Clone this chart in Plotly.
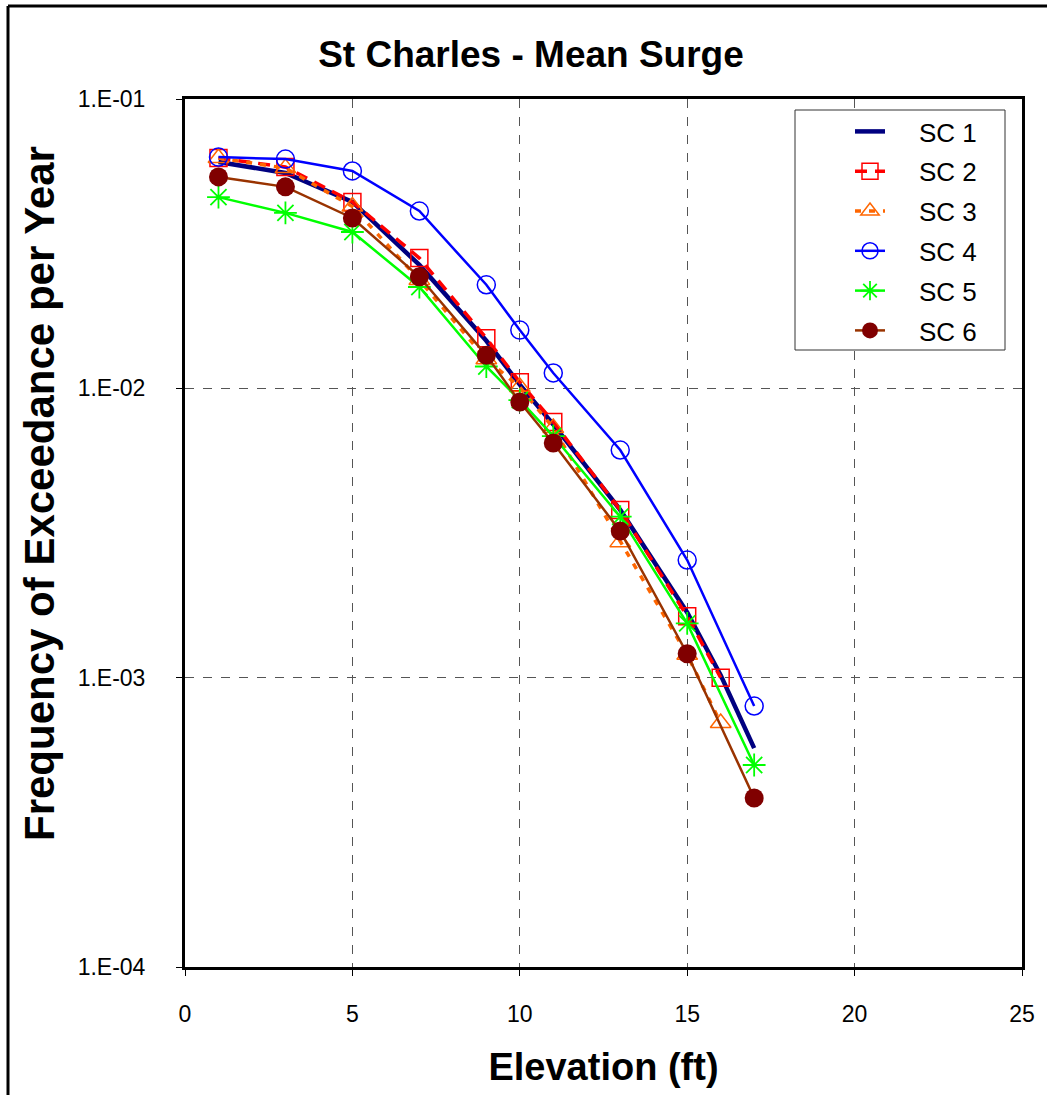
import plotly.graph_objects as go

# ---- data ----
x_sc1 = [1, 3, 5, 7, 9, 10, 11, 13, 15, 16, 17]
y_sc1 = [0.0606, 0.0555, 0.0441, 0.0267, 0.0146, 0.0103, 0.0075, 0.0038, 0.00168, 0.00102, 0.000571]

x_sc2 = [1, 3, 5, 7, 9, 10, 11, 13, 15, 16]
y_sc2 = [0.0625, 0.0582, 0.0441, 0.0282, 0.0149, 0.0105, 0.00765, 0.0038, 0.00163, 0.0010]

x_sc3 = [1, 3, 5, 7, 9, 10, 11, 13, 15, 16]
y_sc3 = [0.0625, 0.0577, 0.0425, 0.0237, 0.0126, 0.0101, 0.0073, 0.00294, 0.00120, 0.000697]

x_sc4 = [1, 3, 5, 7, 9, 10, 11, 13, 15, 17]
y_sc4 = [0.0630, 0.0620, 0.0564, 0.0410, 0.0228, 0.0159, 0.0113, 0.00612, 0.00255, 0.000798]

x_sc5 = [1, 3, 5, 7, 9, 10, 11, 13, 15, 17]
y_sc5 = [0.0458, 0.0404, 0.0347, 0.0224, 0.0119, 0.00911, 0.00684, 0.0036, 0.00154, 0.000499]

x_sc6 = [1, 3, 5, 7, 9, 10, 11, 13, 15, 17]
y_sc6 = [0.0538, 0.0497, 0.0388, 0.0243, 0.0130, 0.00897, 0.00647, 0.00321, 0.00121, 0.000384]

series_names = ["SC 1", "SC 2", "SC 3", "SC 4", "SC 5", "SC 6"]
y_tickvals = [1e-4, 1e-3, 1e-2, 1e-1]
y_ticktext = ["1.E-04", "1.E-03", "1.E-02", "1.E-01"]
x_tickvals = [0, 5, 10, 15, 20, 25]

FONT = "Liberation Sans, Arial, sans-serif"
PAD = "\u00a0" * 4

fig = go.Figure()

fig.add_trace(go.Scatter(x=x_sc1, y=y_sc1, name=PAD + series_names[0], mode="lines",
                         line=dict(color="#000080", width=4.5), legendgroup="g1"))
fig.add_trace(go.Scatter(x=x_sc2, y=y_sc2, name=PAD + series_names[1], mode="lines+markers",
                         line=dict(color="#FF0000", width=3.5, dash="12px,8px"),
                         marker=dict(symbol="square-open", size=17, color="#FF0000",
                                     line=dict(width=1.5, color="#FF0000")),
                         legendgroup="g2"))
fig.add_trace(go.Scatter(x=x_sc3, y=y_sc3, name=PAD + series_names[2], mode="lines+markers",
                         line=dict(color="#FF6600", width=3.5, dash="6px,8px"),
                         marker=dict(symbol="triangle-up-open", size=18, color="#FF6600",
                                     line=dict(width=1.5, color="#FF6600")),
                         legendgroup="g3"))
fig.add_trace(go.Scatter(x=x_sc4, y=y_sc4, name=PAD + series_names[3], mode="lines+markers",
                         line=dict(color="#0000FF", width=2.5),
                         marker=dict(symbol="circle-open", size=18, color="#0000FF",
                                     line=dict(width=1.5, color="#0000FF")),
                         legendgroup="g4"))
fig.add_trace(go.Scatter(x=x_sc5, y=y_sc5, name=PAD + series_names[4], mode="lines+markers",
                         line=dict(color="#00FF00", width=2.5),
                         marker=dict(symbol="asterisk-open", size=19, color="#00FF00",
                                     line=dict(width=1.8, color="#00FF00")),
                         legendgroup="g5"))
fig.add_trace(go.Scatter(x=x_sc6, y=y_sc6, name=PAD + series_names[5], mode="lines+markers",
                         line=dict(color="#993300", width=2.5),
                         marker=dict(symbol="circle", size=19, color="#800000"),
                         legendgroup="g6"))

L, R, T, B = 185, 25, 99, 128
W, H = 1047, 1095
pw = W - L - R
ph = H - T - B

def px_x(p):
    return (p - L) / pw

def px_y(p):
    return (H - B - p) / ph

fig.update_layout(
    width=W, height=H,
    margin=dict(l=L, r=R, t=T, b=B),
    paper_bgcolor="white", plot_bgcolor="white",
    font=dict(family=FONT, color="black"),
    title=dict(text="<b>St Charles - Mean Surge</b>", x=531 / W, xanchor="center",
               y=1 - 54 / H, yanchor="middle", font=dict(size=37, family=FONT)),
    showlegend=True,
    legend=dict(x=px_x(850), y=px_y(108), xanchor="left", yanchor="top",
                bgcolor="rgba(0,0,0,0)", borderwidth=0,
                font=dict(size=26, family=FONT), tracegroupgap=3),
    xaxis=dict(range=[0, 25], tickvals=x_tickvals, showgrid=True,
               gridcolor="#555555", griddash="dash", gridwidth=1,
               showline=True, linecolor="black", linewidth=3, mirror=True,
               ticks="outside", ticklen=6, tickcolor="black",
               tickfont=dict(size=23, family=FONT), ticklabelstandoff=18,
               zeroline=False,
               title=dict(text="<b>Elevation (ft)</b>", font=dict(size=38, family=FONT),
                          standoff=28)),
    yaxis=dict(type="log", range=[-4, -1], tickvals=y_tickvals, ticktext=y_ticktext,
               showgrid=True, gridcolor="#555555", griddash="dash", gridwidth=1,
               showline=True, linecolor="black", linewidth=3, mirror=True,
               ticks="outside", ticklen=6, tickcolor="black",
               tickfont=dict(size=23, family=FONT), ticklabelstandoff=26,
               zeroline=False),
)

# y-axis title as annotation (placed above the plot centre as in the reference)
fig.add_annotation(text="<b>Frequency of Exceedance per Year</b>", textangle=-90,
                   xref="paper", yref="paper", x=px_x(40), y=px_y(494),
                   xanchor="center", yanchor="middle", showarrow=False,
                   font=dict(size=42, family=FONT, color="black"))

# legend frame
fig.add_shape(type="rect", xref="paper", yref="paper", layer="above",
              x0=px_x(795), x1=px_x(1005), y0=px_y(350), y1=px_y(110),
              line=dict(color="#333333", width=1), fillcolor="white")

# outer frame (left and top edges of the chart area)
fig.add_shape(type="line", xref="paper", yref="paper",
              x0=px_x(8), x1=px_x(8), y0=px_y(1100), y1=px_y(6),
              line=dict(color="black", width=3))
fig.add_shape(type="line", xref="paper", yref="paper",
              x0=px_x(8), x1=px_x(1050), y0=px_y(6), y1=px_y(6),
              line=dict(color="black", width=3))

fig.write_html("out.html", config={"displayModeBar": False},
               post_script="document.body.style.margin='0px';document.body.style.overflow='hidden';")
